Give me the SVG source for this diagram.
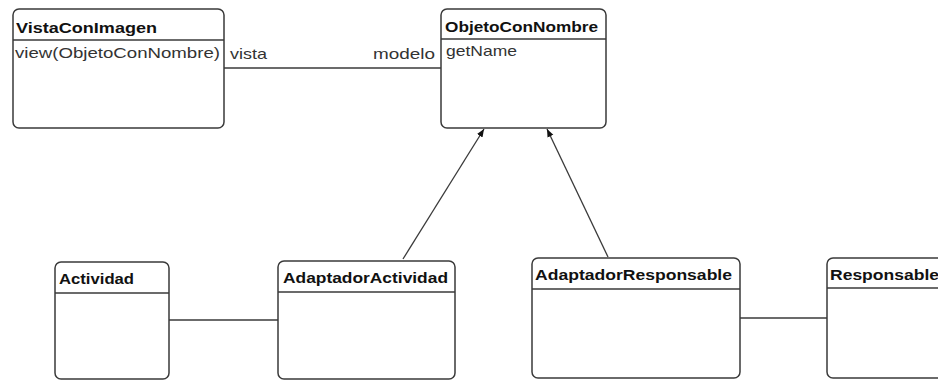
<svg xmlns="http://www.w3.org/2000/svg" width="938" height="381" viewBox="0 0 938 381">
<style>
.box{fill:#fff;stroke:#3a3a3a;stroke-width:1.5}
.sep{stroke:#3a3a3a;stroke-width:1.5}
.title{font-family:"Liberation Sans",Arial,sans-serif;font-size:15px;font-weight:bold;fill:#111}
.txt{font-family:"Liberation Sans",Arial,sans-serif;font-size:15px;fill:#333}
.conn{stroke:#3a3a3a;stroke-width:1.3;fill:none}
</style>
<defs>
<marker id="arr" viewBox="0 0 10 10" refX="10" refY="5" markerWidth="8" markerHeight="8" markerUnits="userSpaceOnUse" orient="auto">
<path d="M0,1 L10,5 L0,9 z" fill="#111"/>
</marker>
</defs>
<rect width="938" height="381" fill="#fff"/>
<g id="connectors">
<line class="conn" x1="224" y1="68" x2="441" y2="68"/>
<line class="conn" x1="169" y1="320" x2="278" y2="320"/>
<line class="conn" x1="740" y1="318" x2="827" y2="318"/>
<line class="conn" x1="403" y1="259" x2="484" y2="129" marker-end="url(#arr)"/>
<line class="conn" x1="608" y1="257" x2="547" y2="129" marker-end="url(#arr)"/>
<text class="txt" x="230" y="59" textLength="37" lengthAdjust="spacingAndGlyphs">vista</text>
<text class="txt" x="373" y="59" textLength="62" lengthAdjust="spacingAndGlyphs">modelo</text>
</g>
<g id="VistaConImagen">
<rect class="box" x="13" y="9" width="211" height="119" rx="6"/>
<line class="sep" x1="13" y1="40" x2="224" y2="40"/>
<text class="title" x="16" y="33" textLength="141" lengthAdjust="spacingAndGlyphs">VistaConImagen</text>
<text class="txt" x="15" y="58" textLength="205" lengthAdjust="spacingAndGlyphs">view(ObjetoConNombre)</text>
</g>
<g id="ObjetoConNombre">
<rect class="box" x="441" y="9" width="165" height="119" rx="6"/>
<line class="sep" x1="441" y1="39" x2="606" y2="39"/>
<text class="title" x="445" y="32" textLength="153" lengthAdjust="spacingAndGlyphs">ObjetoConNombre</text>
<text class="txt" x="446" y="56" textLength="71" lengthAdjust="spacingAndGlyphs">getName</text>
</g>
<g id="Actividad">
<rect class="box" x="55" y="262" width="114" height="117" rx="6"/>
<line class="sep" x1="55" y1="293" x2="169" y2="293"/>
<text class="title" x="59" y="284" textLength="75" lengthAdjust="spacingAndGlyphs">Actividad</text>
</g>
<g id="AdaptadorActividad">
<rect class="box" x="278" y="261" width="177" height="118" rx="6"/>
<line class="sep" x1="278" y1="292" x2="455" y2="292"/>
<text class="title" x="283" y="283" textLength="165" lengthAdjust="spacingAndGlyphs">AdaptadorActividad</text>
</g>
<g id="AdaptadorResponsable">
<rect class="box" x="532" y="258" width="208" height="120" rx="6"/>
<line class="sep" x1="532" y1="289" x2="740" y2="289"/>
<text class="title" x="535" y="280" textLength="197" lengthAdjust="spacingAndGlyphs">AdaptadorResponsable</text>
</g>
<g id="Responsable">
<rect class="box" x="827" y="258" width="140" height="120" rx="6"/>
<line class="sep" x1="827" y1="288" x2="967" y2="288"/>
<text class="title" x="830" y="280" textLength="109" lengthAdjust="spacingAndGlyphs">Responsable</text>
</g>
</svg>
